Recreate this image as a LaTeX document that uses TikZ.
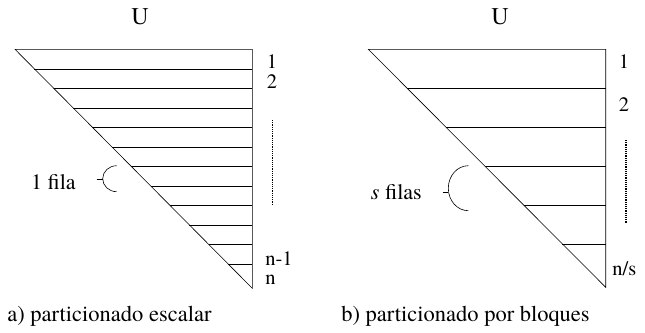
\documentclass[tikz,border=0pt]{standalone}
\usepackage{fontspec}
\setmainfont{texgyretermes}[Extension=.otf,UprightFont=*-regular,ItalicFont=*-italic,BoldFont=*-bold]
\begin{document}
\begin{tikzpicture}[x=1pt,y=-1pt,line width=0.6pt,
  lbl/.style={font=\rmfamily\fontsize{22}{24}\selectfont,inner sep=0pt},
  num/.style={font=\rmfamily\fontsize{20.5}{22}\selectfont,inner sep=0pt},
  captxt/.style={font=\rmfamily\fontsize{22.5}{24}\selectfont,inner sep=0pt},
  ttl/.style={font=\rmfamily\fontsize{24}{26}\selectfont,inner sep=0pt},
  dots/.style={line width=1.3pt,dash pattern=on 1.2pt off 1pt}]
\useasboundingbox (0,0) rectangle (645,332);
% ---- left triangle
\coordinate (LA) at (15,49.3);
\coordinate (LB) at (252.3,49.3);
\coordinate (LC) at (252.3,288.3);
\draw (LA) -- (LB) -- (LC) -- cycle;
\foreach \i in {1,...,11}
  \draw ({15+\i*19.5*0.99289},{49.3+\i*19.5}) -- (252.3,{49.3+\i*19.5});
\node[ttl] (LU) at (140,17) {U};
\node[num] (L1) at (272,61.5) {1};
\node[num] (L2) at (272,82) {2};
\coordinate (LD1) at (272.7,120);
\coordinate (LD2) at (272.7,204);
\draw[dots] (LD1) -- (LD2);
\node[num,anchor=base west] (Ln1) at (265,265) {n-1};
\node[num,anchor=base west] (Ln) at (265,284) {n};
\node[lbl,anchor=base east] (Lf) at (76,189) {1 fila};
\coordinate (LBr) at (116.7,165.7);
\draw (LBr) arc[start angle=270,end angle=90,x radius=14,y radius=13];
\draw (96.7,179.5) -- (102.7,179.5);
\node[captxt,anchor=base west] (Lcap) at (7,321) {a) particionado escalar};
% ---- right triangle
\coordinate (RA) at (368.3,49.3);
\coordinate (RB) at (605.7,49.3);
\coordinate (RC) at (605.7,287.3);
\draw (RA) -- (RB) -- (RC) -- cycle;
\foreach \i in {1,...,5}
  \draw ({368.3+\i*38.9*0.99748},{49.3+\i*38.9}) -- (605.7,{49.3+\i*38.9});
\node[ttl] (RU) at (500,17) {U};
\node[num] (R1) at (624,62) {1};
\node[num] (R2) at (624,105) {2};
\coordinate (RD1) at (626,140);
\coordinate (RD2) at (626,223);
\draw[dots] (RD1) -- (RD2);
\node[num,anchor=base west] (Rns) at (612,275) {n/s};
\node[lbl,anchor=base east] (Rf) at (422,199) {\textit{s} filas};
\coordinate (RBr) at (468.3,165.7);
\draw (RBr) arc[start angle=270,end angle=90,x radius=20,y radius=22.5];
\draw (442.7,192.5) -- (448.3,192.5);
\node[captxt,anchor=base east] (Rcap) at (590,321) {b) particionado por bloques};
\end{tikzpicture}
\end{document}
